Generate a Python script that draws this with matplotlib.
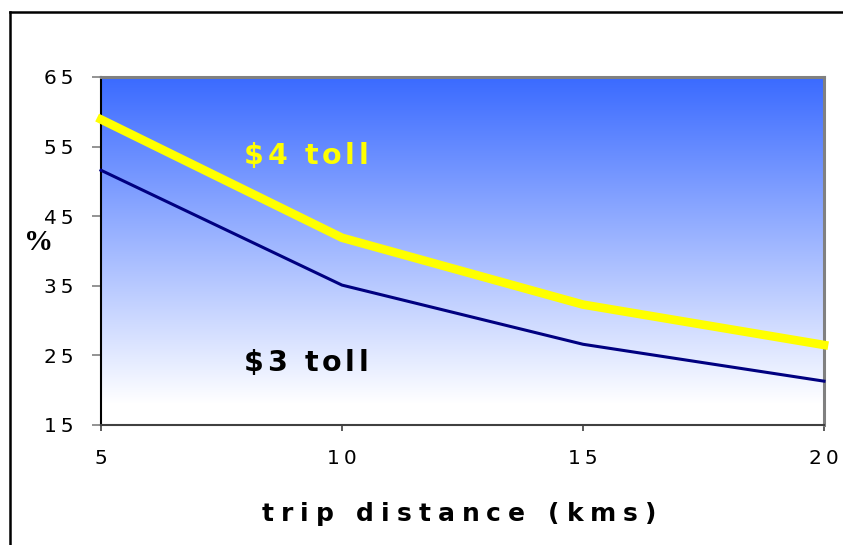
import matplotlib
matplotlib.use("Agg")
import matplotlib.pyplot as plt
import numpy as np
from matplotlib.transforms import offset_copy
from matplotlib.font_manager import FontProperties, findfont
from matplotlib.ft2font import FT2Font, LoadFlags
from matplotlib.lines import Line2D

# --- data -------------------------------------------------------------
distance = [5, 10, 15, 20]               # trip distance, km
share_toll_4 = [58.9, 41.9, 32.3, 26.5]  # % at $4 toll
share_toll_3 = [51.6, 35.1, 26.6, 21.3]  # % at $3 toll
y_ticks = [15, 25, 35, 45, 55, 65]
x_ticks = [5, 10, 15, 20]
# digits are set slightly apart with a thin space
y_tick_labels = ["\u2009".join(str(v)) for v in y_ticks]
x_tick_labels = ["\u2009".join(str(v)) for v in x_ticks]
series_labels = ["$4 toll", "$3 toll"]
x_title = "trip distance (kms)"
y_title = "%"

W, H, DPI = 843, 545, 100
fig = plt.figure(figsize=(W / DPI, H / DPI), dpi=DPI)
fig.patch.set_facecolor("white")

# plot area in pixels: left 101, right 824, top 77, bottom 425
ax = fig.add_axes([101 / W, (H - 425) / H, (824 - 101) / W, (425 - 77) / H])
ax.set_xlim(5, 20)
ax.set_ylim(15, 65)

# vertical blue-to-white gradient backdrop
top = np.array([58, 106, 255]) / 255
bot = np.array([255, 255, 255]) / 255
t = np.linspace(0, 1, 256)[:, None]
grad = (top[None, :] * (1 - t) + bot[None, :] * t)[:, None, :]
ax.imshow(grad, extent=[5, 20, 18, 65], aspect="auto", origin="upper",
          interpolation="bilinear", zorder=0)
ax.set_facecolor("white")

ax.plot(distance, share_toll_4, color="#FFFF00", lw=6.2,
        solid_joinstyle="round", zorder=3, clip_on=False)
ax.plot(distance, share_toll_3, color="#000080", lw=2.2,
        solid_joinstyle="round", zorder=3, clip_on=False)

# axes frame
ax.spines["left"].set_color("black")
ax.spines["left"].set_linewidth(1.5)
ax.spines["bottom"].set_color("#404040")
ax.spines["bottom"].set_linewidth(1.5)
for s in ("top", "right"):
    ax.spines[s].set_color("#808080")
    ax.spines[s].set_linewidth(2.2)

tick_font = FontProperties(family="DejaVu Sans", size=14.5)
ax.set_yticks(y_ticks)
ax.set_yticklabels(y_tick_labels, fontproperties=tick_font)
ax.set_xticks(x_ticks)
ax.set_xticklabels(x_tick_labels, fontproperties=tick_font)
ax.tick_params(axis="y", direction="out", length=6.2, width=1.2,
               color="#808080", pad=13.5)
ax.tick_params(axis="x", direction="out", length=4.5, width=1.2,
               color="#404040", pad=12.5)


def tracked_text(x, y, s, size, width_px, transform, color="black",
                 weight="bold", family="DejaVu Sans"):
    """Draw a string centred on x, letter-spaced to span width_px."""
    prop = FontProperties(family=family, weight=weight, size=size)
    font = FT2Font(findfont(prop), hinting_factor=1)
    font.set_size(size, DPI)
    adv = []
    for ch in s:
        g = font.load_char(ord(ch), flags=LoadFlags.NO_HINTING)
        adv.append(g.linearHoriAdvance / 65536)
    tracking = max(0.0, (width_px - sum(adv)) / (len(s) - 1))
    total = sum(adv) + tracking * (len(s) - 1)
    pos = -total / 2
    for ch, a in zip(s, adv):
        if ch != " ":
            tr = offset_copy(transform, fig=fig, x=pos, y=0, units="dots")
            fig.text(x, y, ch, transform=tr, fontproperties=prop,
                     color=color, ha="left", va="baseline", zorder=5)
        pos += a + tracking


# series labels inside the plot area
tracked_text(306 / W, (H - 164) / H, series_labels[0], 20.5, 124,
             fig.transFigure, color="#FFFF00")
tracked_text(306 / W, (H - 371) / H, series_labels[1], 20.5, 124,
             fig.transFigure, color="black")

# axis titles
tracked_text(459 / W, (H - 521) / H, x_title, 18, 395, fig.transFigure)
fig.text(39 / W, (H - 242) / H, y_title, fontsize=21, fontweight="bold",
         family="Liberation Serif", ha="center", va="center")

# outer chart border (runs off the right and bottom edges)
fig.add_artist(Line2D([10 / W, 10 / W], [0, 1 - 12 / H], color="black",
                      lw=1.8, transform=fig.transFigure))
fig.add_artist(Line2D([10 / W, 1], [1 - 12 / H, 1 - 12 / H], color="black",
                      lw=1.8, transform=fig.transFigure))

fig.savefig("out.png", dpi=DPI)
